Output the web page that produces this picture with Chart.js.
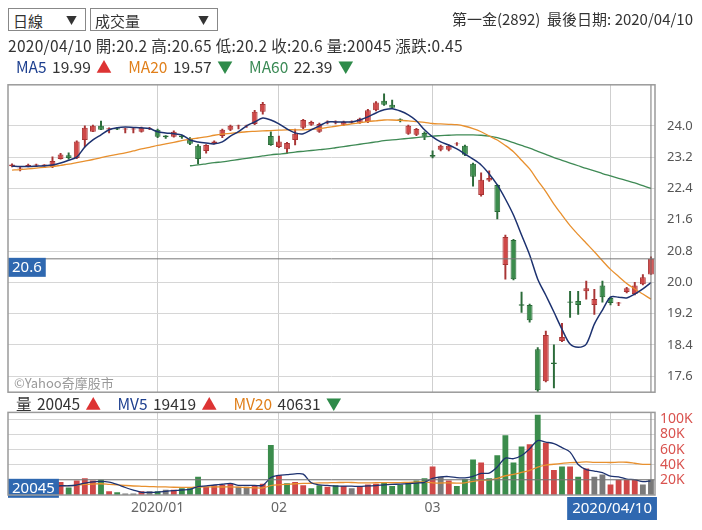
<!DOCTYPE html>
<html><head><meta charset="utf-8">
<script src="https://cdn.jsdelivr.net/npm/chart.js@4"></script>
<style>
body{margin:0;width:702px;height:530px;background:#fff;font-family:"Noto Sans CJK TC","Noto Sans",sans-serif;color:#333;position:relative;overflow:hidden}
.dd{position:absolute;top:8px;height:23px;border:1px solid #888;font-size:15px;line-height:23px;padding-left:4px;box-sizing:border-box;background:#fff}
.dd span{position:absolute;right:8px;font-size:11px}
.t{position:absolute;font-size:15.5px;white-space:nowrap;line-height:18px}
.up{color:#d33}.dn{color:#2e8b4a}
#c1{position:absolute;left:0;top:65px}
#c2{position:absolute;left:0;top:399px}
</style></head><body>
<canvas id="c1" width="702" height="347"></canvas>
<canvas id="c2" width="702" height="131"></canvas>
<div class="dd" style="left:8px;width:78px">日線<span>▼</span></div>
<div class="dd" style="left:90px;width:128px">成交量<span>▼</span></div>
<div class="t" style="right:9px;top:10px;font-size:15px">第一金(2892) &nbsp;最後日期: 2020/04/10</div>
<div class="t" style="left:8px;top:36px;letter-spacing:0.3px">2020/04/10 開:20.2 高:20.65 低:20.2 收:20.6 量:20045 漲跌:0.45</div>
<div class="t" style="left:16px;top:57px;word-spacing:2px"><span style="color:#1d3f8f">MA5</span> 19.99 <span class="up">▲</span> &nbsp;&nbsp;<span style="color:#e07f1a">MA20</span> 19.57 <span class="dn">▼</span> &nbsp;&nbsp;<span style="color:#3a8a55">MA60</span> 22.39 <span class="dn">▼</span></div>
<div class="t" style="left:16px;top:394px;word-spacing:2px">量 20045 <span class="up">▲</span> &nbsp;&nbsp;<span style="color:#1d3f8f">MV5</span> 19419 <span class="up">▲</span> &nbsp;&nbsp;<span style="color:#e07f1a">MV20</span> 40631 <span class="dn">▼</span></div>
<script>
const monthTicks = {18:'2020/01', 33:'02', 52:'03'};
const gridIdx = [18, 33, 52, 74];
const opens  = [22.98,22.92,22.97,23.0,22.98,22.95,23.15,23.25,23.18,23.64,23.85,24.0,23.92,23.93,23.92,23.92,23.85,23.93,23.9,23.74,23.72,23.74,23.67,23.49,23.36,23.55,23.74,23.9,24.0,24.0,24.05,24.36,23.74,23.46,23.4,23.64,23.95,24.03,23.85,24.1,24.1,24.03,24.1,24.08,24.1,24.4,24.64,24.54,24.16,23.8,23.77,23.82,23.24,23.39,23.39,23.54,23.49,23.03,22.23,22.6,22.49,20.44,21.08,19.43,19.42,18.29,17.47,17.94,18.5,19.5,19.52,19.77,19.42,19.92,19.6,19.47,19.75,19.7,19.95,20.2];
const highs  = [23.03,22.95,23.02,23.02,23.01,23.21,23.3,23.31,23.62,24.0,24.02,24.12,23.95,23.95,23.94,23.94,23.97,23.96,23.92,23.75,23.87,23.76,23.7,23.52,23.52,23.62,23.92,24.02,24.02,24.02,24.4,24.6,23.85,23.74,23.58,23.92,24.17,24.12,24.07,24.13,24.13,24.12,24.13,24.2,24.42,24.62,24.82,24.66,24.18,24.02,23.94,23.85,23.36,23.51,23.51,23.57,23.51,23.05,22.8,22.85,22.5,21.21,21.1,19.75,19.44,18.33,18.75,18.4,18.95,19.77,19.77,20.03,19.82,20.03,19.62,19.49,19.87,20.0,20.2,20.65];
const lows   = [22.95,22.85,22.95,22.97,22.96,22.93,23.15,23.15,23.16,23.46,23.85,23.9,23.82,23.9,23.82,23.82,23.84,23.9,23.7,23.68,23.71,23.68,23.52,23.03,23.3,23.53,23.7,23.88,23.92,23.96,24.03,24.3,23.5,23.44,23.3,23.51,23.93,24.01,23.83,24.05,24.05,24.01,24.06,24.06,24.08,24.38,24.52,24.44,24.1,23.78,23.75,23.65,23.18,23.36,23.36,23.5,23.24,22.46,22.2,22.58,21.62,20.08,20.06,19.23,18.98,17.2,17.45,17.3,18.48,19.1,19.18,19.57,19.18,19.49,19.42,19.4,19.73,19.68,19.93,20.2];
const closes = [23.0,22.92,23.0,23.0,23.0,23.1,23.27,23.18,23.6,23.95,24.0,23.9,23.93,23.92,23.92,23.92,23.95,23.93,23.72,23.72,23.85,23.72,23.54,23.15,23.51,23.6,23.9,24.0,24.0,24.0,24.36,24.56,23.51,23.6,23.56,23.8,24.15,24.1,24.05,24.1,24.1,24.1,24.1,24.18,24.4,24.6,24.54,24.46,24.14,24.0,23.92,23.72,23.22,23.49,23.49,23.54,23.26,22.7,22.62,22.67,21.8,21.16,20.08,19.41,19.03,17.24,18.65,17.92,18.6,19.49,19.42,19.85,19.57,19.62,19.47,19.47,19.85,19.92,20.13,20.6];
const ma5  = [22.97,22.96,22.96,22.97,22.98,23.0,23.05,23.12,23.2,23.46,23.64,23.77,23.9,23.95,23.97,23.96,23.95,23.93,23.85,23.82,23.8,23.77,23.64,23.59,23.56,23.54,23.59,23.74,23.85,24.0,24.1,24.2,24.15,24.05,23.92,23.82,23.8,23.9,24.0,24.1,24.1,24.1,24.1,24.15,24.23,24.33,24.41,24.44,24.38,24.28,24.13,23.9,23.72,23.59,23.51,23.41,23.28,23.15,23.0,22.77,22.49,22.13,21.72,21.21,20.7,20.08,19.67,19.24,18.8,18.42,18.34,18.42,18.93,19.29,19.62,19.62,19.6,19.7,19.83,19.99];
const ma20 = [22.87,22.88,22.9,22.92,22.94,22.96,22.99,23.02,23.06,23.1,23.14,23.19,23.23,23.27,23.31,23.36,23.41,23.45,23.5,23.54,23.58,23.62,23.66,23.69,23.72,23.76,23.79,23.81,23.83,23.85,23.86,23.87,23.88,23.89,23.9,23.9,23.9,23.91,23.93,23.96,23.99,24.02,24.05,24.08,24.11,24.13,24.15,24.15,24.14,24.13,24.11,24.09,24.06,24.05,24.04,24.03,23.99,23.93,23.85,23.74,23.64,23.5,23.34,23.12,22.9,22.6,22.32,22.0,21.72,21.45,21.22,21.0,20.78,20.55,20.33,20.15,19.97,19.83,19.7,19.57];
const ma60 = [null,null,null,null,null,null,null,null,null,null,null,null,null,null,null,null,null,null,null,null,null,null,22.98,23.0,23.03,23.06,23.08,23.11,23.14,23.17,23.2,23.23,23.26,23.28,23.3,23.33,23.35,23.37,23.39,23.41,23.44,23.47,23.5,23.53,23.56,23.59,23.62,23.64,23.66,23.68,23.7,23.72,23.74,23.75,23.76,23.77,23.77,23.77,23.76,23.74,23.7,23.64,23.57,23.5,23.43,23.35,23.27,23.19,23.12,23.05,22.98,22.91,22.85,22.78,22.72,22.66,22.6,22.54,22.47,22.4];
const volumes = [15,12,10,14,9,11,17,10,19,22,19,20,5,3.5,2,2,5,5,5,7,7,9,9,24,11,13,14,15,11,11,12,15,66,26,15.5,17,13,9,13,11,13,12,9,12,14,15,17,12,14,17,19,22,37.6,24,19,12,21,47,43,22,52.5,79,43,64,67,106,69,33,37.6,37.6,24,35,24,27,14,20,20,20,14,20.045];
const volDir = 'nnnnnnrgrrrgrgnnrngnrgggrrrrnnrrgrgrrggrgrnrrrggggggrnrgggrgggggrgrrgrgrnnrrrr';
const ma5Vol = volumes.map((v,i)=>{const s=volumes.slice(Math.max(0,i-4),i+1);return s.reduce((a,b)=>a+b,0)/s.length;});
const ma20Vol = volumes.map((v,i)=>{const s=volumes.slice(Math.max(0,i-19),i+1);return s.reduce((a,b)=>a+b,0)/s.length;});

const RED='#cf4848', REDB='#a83535', GRN='#3b8c4c', GRNB='#2b6b39', GRAY='#7a7a7a', BLUEBOX='#2f68b0';
const labels = closes.map((_,i)=>i);
const up = closes.map((c,i)=>c>=opens[i]);
const bodies = closes.map((c,i)=>{const a=Math.min(c,opens[i]),b=Math.max(c,opens[i]);return b-a<0.02?[a-0.012,b+0.012]:[a,b];});
const wicks = highs.map((h,i)=>[lows[i],h]);
const dashGrid = {color:'#d6d6d6', borderDash:[5,4], drawTicks:false};
const xGrid = {display:true, offset:false, drawTicks:false, color:(ctx)=>gridIdx.includes(ctx.index)?'#cfcfcf':'rgba(0,0,0,0)', borderDash:[5,4]};

const frame = {id:'frame', afterDraw(ch){const a=ch.chartArea,c=ch.ctx;c.save();c.strokeStyle='#9a9a9a';c.lineWidth=1.5;c.strokeRect(a.left,a.top,a.right-a.left,a.bottom-a.top);c.restore();}};

function cross(value, text, bottomBox){
 return {id:'cross', afterDatasetsDraw(ch){
  const a=ch.chartArea,c=ch.ctx,y=ch.scales.y.getPixelForValue(value),x=ch.scales.x.getPixelForValue(79);
  c.save();c.strokeStyle='#777';c.lineWidth=1;
  c.beginPath();c.moveTo(a.left,y);c.lineTo(a.right,y);c.moveTo(x,a.top);c.lineTo(x,a.bottom);c.stroke();
  c.font='15px "Noto Sans","Noto Sans CJK TC"';const w=c.measureText(text).width+8;
  c.fillStyle=BLUEBOX;c.fillRect(a.left,y-1,w,19);c.fillStyle='#fff';c.textBaseline='middle';c.fillText(text,a.left+4,y+9);
  if(bottomBox){c.font='15px "Noto Sans"';const t='2020/04/10',tw=c.measureText(t).width+10;c.fillStyle=BLUEBOX;c.fillRect(x+6-tw,a.bottom+2,tw,23);c.fillStyle='#fff';c.fillText(t,x+11-tw,a.bottom+14);}
  c.restore();}};
}
const wm={id:'wm',afterDraw(ch){const a=ch.chartArea,c=ch.ctx;c.save();c.fillStyle='#999';c.font='13px "Noto Sans CJK TC"';c.textBaseline='middle';c.fillText('©Yahoo奇摩股市',a.left+6,a.bottom-9);c.restore();}};

Chart.defaults.font.family='"Noto Sans","Noto Sans CJK TC",sans-serif';
Chart.defaults.animation=false;

new Chart(document.getElementById('c1'),{
 type:'bar',
 data:{labels,datasets:[
  {type:'line',data:ma5,borderColor:'#1d3270',borderWidth:1.5,pointRadius:0,tension:0.3,order:0},
  {type:'line',data:ma20,borderColor:'#e8902e',borderWidth:1.3,pointRadius:0,tension:0.3,order:0},
  {type:'line',data:ma60,borderColor:'#3f8a55',borderWidth:1.3,pointRadius:0,tension:0.3,order:0},
  {data:bodies,backgroundColor:up.map(u=>u?RED:GRN),borderColor:up.map(u=>u?REDB:GRNB),borderWidth:1,borderSkipped:false,barPercentage:0.72,categoryPercentage:1,grouped:false,order:1},
  {data:wicks,backgroundColor:up.map(u=>u?REDB:GRNB),barThickness:1.3,grouped:false,order:2}
 ]},
 options:{responsive:false,devicePixelRatio:1,layout:{autoPadding:false,padding:{left:8,right:0,top:0,bottom:0}},
  plugins:{legend:{display:false},tooltip:{enabled:false}},
  scales:{
   x:{grid:xGrid,ticks:{display:false},border:{display:false},afterFit:(s)=>{s.height=0;}},
   y:{position:'right',min:17.19,max:25.05,grid:dashGrid,border:{display:false},
      afterBuildTicks:(s)=>{s.ticks=[17.6,18.4,19.2,20.0,20.8,21.6,22.4,23.2,24.0].map(v=>({value:v}));},
      afterFit:(s)=>{s.width=47;},
      ticks:{color:'#555',font:{size:13},padding:12,callback:(v)=>Number(v).toFixed(1)}}
  }},
 plugins:[frame,cross(20.6,'20.6',false),wm]
});

new Chart(document.getElementById('c2'),{
 type:'bar',
 data:{labels,datasets:[
  {type:'line',data:ma5Vol,borderColor:'#1d3270',borderWidth:1.3,pointRadius:0,tension:0.3,order:0},
  {type:'line',data:ma20Vol,borderColor:'#e8902e',borderWidth:1.3,pointRadius:0,tension:0.3,order:0},
  {data:volumes,backgroundColor:volDir.split('').map(d=>d==='r'?RED:d==='g'?GRN:GRAY),barPercentage:0.72,categoryPercentage:1,order:1}
 ]},
 options:{responsive:false,devicePixelRatio:1,layout:{autoPadding:false,padding:{left:8,right:0,top:0,bottom:0}},
  plugins:{legend:{display:false},tooltip:{enabled:false}},
  scales:{
   x:{grid:xGrid,border:{display:false},afterFit:(s)=>{s.height=35;},
      ticks:{autoSkip:false,maxRotation:0,color:'#666',font:{size:14},padding:5,callback:(v,i)=>monthTicks[i]||''}},
   y:{position:'right',min:0,max:109,grid:dashGrid,border:{display:false},
      afterBuildTicks:(s)=>{s.ticks=[20,40,60,80,100].map(v=>({value:v}));},
      afterFit:(s)=>{s.width=47;},
      ticks:{color:'#d9534f',font:{size:14},padding:5,callback:(v)=>v+'K'}}
  }},
 plugins:[frame,cross(20.045,'20045',true)]
});
</script></body></html>
